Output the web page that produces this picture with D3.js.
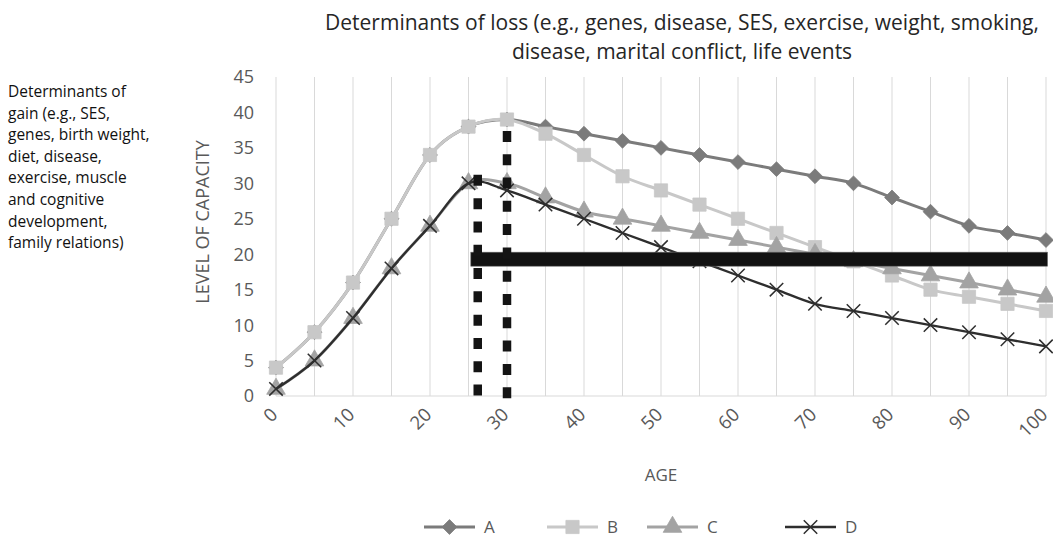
<!DOCTYPE html>
<html>
<head>
<meta charset="utf-8">
<script src="https://cdn.jsdelivr.net/npm/d3@7"></script>
<style>
  html, body { margin: 0; padding: 0; background: #fff; }
  svg { display: block; font-family: "Open Sans", "Noto Sans", sans-serif; }
</style>
</head>
<body>
<svg id="chart" width="1053" height="539"></svg>
<script>
// Ages on the category axis (every 5 years)
const ages = [0,5,10,15,20,25,30,35,40,45,50,55,60,65,70,75,80,85,90,95,100];
const tickAges = [0,10,20,30,40,50,60,70,80,90,100];
const yTicks = [0,5,10,15,20,25,30,35,40,45];

// Level of capacity for each trajectory
const seriesA = [4,9,16,25,34,38,39,38,37,36,35,34,33,32,31,30,28,26,24,23,22];
const seriesB = [4,9,16,25,34,38,39,37,34,31,29,27,25,23,21,19,17,15,14,13,12];
const seriesC = [1,5,11,18,24,30,30,28,26,25,24,23,22,21,20,19,18,17,16,15,14];
const seriesD = [1,5,11,18,24,30,29,27,25,23,21,19,17,15,13,12,11,10,9,8,7];
const seriesNames = ["A","B","C","D"];

// Threshold band and peak markers (age, level)
const thresholdLevel = 19.3;
const thresholdFrom = 25.3;
const thresholdTo = 100.2;
const peakAges = [26.2, 30];
const peakTops = [31.2, 37.4];

const titleLines = [
  "Determinants of loss (e.g., genes, disease, SES, exercise, weight, smoking,",
  "disease, marital conflict, life events"
];
const gainLines = [
  "Determinants of", "gain (e.g., SES,", "genes, birth weight,", "diet, disease,",
  "exercise, muscle", "and cognitive", "development,", "family relations)"
];

const svg = d3.select("#chart");
const x = d3.scaleLinear().domain([0, 100]).range([276, 1046]);
const y = d3.scaleLinear().domain([0, 45]).range([396, 77]);

const styles = {
  A: { color: "#7b7b7b", width: 3, marker: "diamond" },
  B: { color: "#c8c8c8", width: 3, marker: "square" },
  C: { color: "#a3a3a3", width: 3, marker: "triangle" },
  D: { color: "#2e2e2e", width: 2.3, marker: "cross" }
};
const seriesData = { A: seriesA, B: seriesB, C: seriesC, D: seriesD };

// Vertical gridlines at every category
svg.append("g").selectAll("line").data(ages).join("line")
  .attr("x1", d => x(d)).attr("x2", d => x(d))
  .attr("y1", y(45)).attr("y2", y(0))
  .attr("stroke", "#d9d9d9").attr("stroke-width", 1);

// Horizontal axis line
svg.append("line")
  .attr("x1", x(0)).attr("x2", x(100)).attr("y1", y(0)).attr("y2", y(0))
  .attr("stroke", "#d9d9d9").attr("stroke-width", 1.2);

// Y axis tick labels
svg.append("g").selectAll("text").data(yTicks).join("text")
  .attr("x", 254).attr("y", d => y(d)).attr("dy", "0.36em")
  .attr("text-anchor", "end").attr("fill", "#595959")
  .attr("font-size", 18).text(d => d);

// X axis tick labels, rotated
svg.append("g").selectAll("text").data(tickAges).join("text")
  .attr("transform", d => `translate(${x(d) - 2},${411}) rotate(-45)`)
  .attr("text-anchor", "end").attr("dy", "0.36em")
  .attr("fill", "#595959").attr("font-size", 18.5).text(d => d);

// Axis titles
svg.append("text")
  .attr("transform", `translate(${209},${222}) rotate(-90)`)
  .attr("text-anchor", "middle").attr("fill", "#595959")
  .attr("font-size", 18).text("LEVEL OF CAPACITY");
svg.append("text")
  .attr("x", x(50)).attr("y", 481).attr("text-anchor", "middle")
  .attr("fill", "#595959").attr("font-size", 17).text("AGE");

// Chart title
svg.append("g").selectAll("text").data(titleLines).join("text")
  .attr("x", 682).attr("y", (d, i) => 30 + i * 29)
  .attr("text-anchor", "middle").attr("fill", "#262626")
  .attr("font-size", 21).text(d => d);

// Left-hand annotation
svg.append("g").selectAll("text").data(gainLines).join("text")
  .attr("x", 8).attr("y", (d, i) => 97 + i * 21.6)
  .attr("fill", "#111").attr("font-size", 15.5).text(d => d);

// Marker shapes
const sym = {
  diamond: d3.symbol().type(d3.symbolDiamond2).size(140),
  square: d3.symbol().type(d3.symbolSquare).size(175),
  triangle: d3.symbol().type(d3.symbolTriangle).size(150),
  cross: d3.symbol().type(d3.symbolX).size(120)
};
function drawMarker(g, st, cx, cy) {
  const p = g.append("path").attr("d", sym[st.marker]())
    .attr("transform", `translate(${cx},${cy})`);
  if (st.marker === "cross") {
    p.attr("fill", "none").attr("stroke", st.color).attr("stroke-width", 1.5);
  } else {
    p.attr("fill", st.color).attr("stroke", st.color).attr("stroke-width", 0.8);
  }
}

const line = d3.line()
  .x((d, i) => x(ages[i])).y(d => y(d))
  .curve(d3.curveCardinal.tension(0));

// Series lines and markers
seriesNames.forEach(name => {
  const st = styles[name];
  const vals = seriesData[name];
  const g = svg.append("g");
  g.append("path").attr("d", line(vals))
    .attr("fill", "none").attr("stroke", st.color)
    .attr("stroke-width", st.width).attr("stroke-linejoin", "round");
  vals.forEach((v, i) => drawMarker(g, st, x(ages[i]), y(v)));
});

// Threshold band
svg.append("rect")
  .attr("x", x(thresholdFrom)).attr("width", x(thresholdTo) - x(thresholdFrom))
  .attr("y", y(thresholdLevel) - 7).attr("height", 14)
  .attr("fill", "#121212").attr("stroke", "#6a6a6a").attr("stroke-width", 0.6);

// Dotted peak markers
svg.append("g").selectAll("line").data(peakAges).join("line")
  .attr("x1", d => x(d)).attr("x2", d => x(d))
  .attr("y1", (d, i) => y(peakTops[i])).attr("y2", y(0) + 4)
  .attr("stroke", "#141414").attr("stroke-width", 8.5)
  .attr("stroke-dasharray", "11 12.3");

// Legend
const legendX = [424, 547, 647, 785];
const legendY = 527;
const lg = svg.append("g");
seriesNames.forEach((name, i) => {
  const st = styles[name];
  lg.append("line")
    .attr("x1", legendX[i]).attr("x2", legendX[i] + 51)
    .attr("y1", legendY).attr("y2", legendY)
    .attr("stroke", st.color).attr("stroke-width", st.width);
  drawMarker(lg, st, legendX[i] + 25.5, legendY);
  lg.append("text").attr("x", legendX[i] + 60).attr("y", legendY).attr("dy", "0.36em")
    .attr("fill", "#595959").attr("font-size", 17).text(name);
});
</script>
</body>
</html>
